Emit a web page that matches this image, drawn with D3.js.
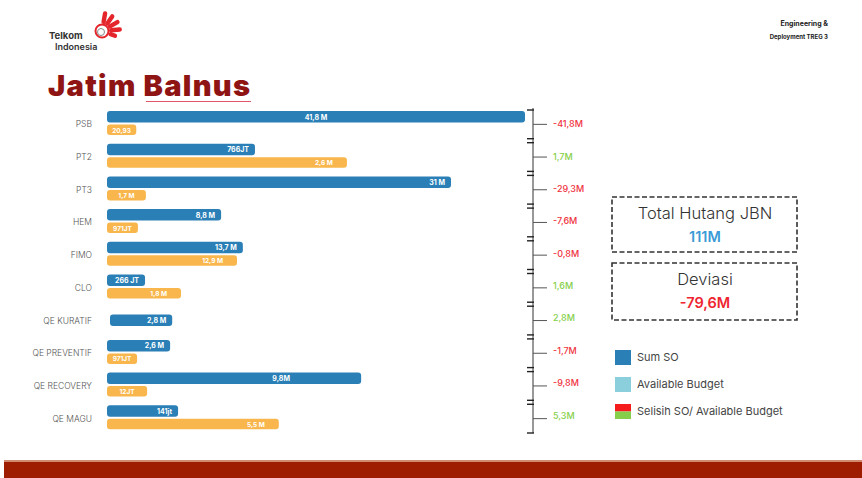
<!DOCTYPE html>
<html>
<head>
<meta charset="utf-8">
<script src="https://cdn.jsdelivr.net/npm/d3@7"></script>
<style>
  html, body { margin: 0; padding: 0; background: #fff; }
  svg { display: block; font-family: Inter, "Open Sans", sans-serif; }
</style>
</head>
<body>
<svg id="chart" width="862" height="478"></svg>
<script>
// categories (top to bottom)
var categories = ["PSB", "PT2", "PT3", "HEM", "FIMO", "CLO", "QE KURATIF", "QE PREVENTIF", "QE RECOVERY", "QE MAGU"];

// bar lengths as drawn in the picture (relative, longest bar = 100)
var soBar     = [100, 35.4, 82.3, 27.3, 32.5, 9.1, 15.6, 15.1, 60.8, 17.0];
var budgetBar = [7.0, 57.4, 9.3, 7.4, 31.1, 17.7, null, 7.2, 9.6, 41.1];

// labels printed on the bars
var soText     = ["41,8 M", "766JT", "31 M", "8,8 M", "13,7 M", "266 JT", "2,8 M", "2,6 M", "9,8M", "141jt"];
var budgetText = ["20,93", "2,6 M", "1,7 M", "971JT", "12,9 M", "1,8 M", "", "971JT", "12JT", "5,5 M"];

// selisih SO / available budget (M)
var selisih = [-41.8, 1.7, -29.3, -7.6, -0.8, 1.6, 2.8, -1.7, -9.8, 5.3];

var totalHutang = "111M";
var deviasi = "-79,6M";

var BLUE = "#2a7fb6", ORANGE = "#f8b64c", RED = "#ef3340", GREEN = "#86cf4a";

var svg = d3.select("#chart");

// ---- header ----
// logo hand (rough)
var logo = svg.append("g").attr("transform", "translate(102,31)");
[-80, -55, -30, -5, 20].forEach(function(a, i) {
    logo.append("rect")
        .attr("x", 7).attr("y", -2.2)
        .attr("width", i == 4 ? 9 : 13).attr("height", 4.4).attr("rx", 2.2)
        .attr("fill", "#e4252c")
        .attr("transform", "rotate(" + a + ")");
});
logo.append("circle").attr("r", 6.5).attr("fill", "#fff")
    .attr("stroke", "#e4252c").attr("stroke-width", 2);
logo.append("circle").attr("cx", -1).attr("cy", 1).attr("r", 3.5).attr("fill", "#fff")
    .attr("stroke", "#888").attr("stroke-width", 1);

svg.append("text").attr("x", 49).attr("y", 39)
    .attr("font-size", 9.5).attr("font-weight", 700).attr("fill", "#333").text("Telkom");
svg.append("text").attr("x", 55).attr("y", 50)
    .attr("font-size", 9).attr("font-weight", 600).attr("fill", "#333").text("Indonesia");

svg.append("text").attr("x", 828).attr("y", 26).attr("text-anchor", "end")
    .attr("font-size", 7).attr("font-weight", 700).attr("fill", "#222").text("Engineering &");
svg.append("text").attr("x", 828).attr("y", 39).attr("text-anchor", "end")
    .attr("font-size", 6).attr("font-weight", 700).attr("fill", "#222").text("Deployment TREG 3");

svg.append("text").attr("x", 48).attr("y", 96)
    .attr("font-size", 29).attr("font-weight", 900).attr("fill", "#8f1414")
    .attr("textLength", 202).attr("lengthAdjust", "spacing")
    .text("Jatim Balnus");
svg.append("line").attr("x1", 146).attr("x2", 251).attr("y1", 101.5).attr("y2", 101.5)
    .attr("stroke", "#e0566a").attr("stroke-width", 1);

// ---- scales ----
var x = d3.scaleLinear().domain([0, 100]).range([107, 525]);
var y = d3.scaleBand().domain(categories).range([108, 435]);
var bw = y.bandwidth();

// category labels
svg.append("g").selectAll("text")
    .data(categories).enter().append("text")
    .attr("x", 92)
    .attr("y", function(d) { return y(d) + bw / 2 + 3; })
    .attr("text-anchor", "end")
    .attr("font-size", 8.5).attr("font-weight", 300).attr("fill", "#555")
    .text(function(d) { return d; });

// Sum SO bars
var rows = categories.map(function(c, i) {
    return { cat: c, so: soBar[i], bud: budgetBar[i], soT: soText[i], budT: budgetText[i] };
});

var soY = function(d) { return d.bud == null ? y(d.cat) + bw / 2 - 6 : y(d.cat) + 3; };

svg.append("g").selectAll("rect")
    .data(rows).enter().append("rect")
    .attr("x", function(d) { return d.bud == null ? x(0) + 3 : x(0); })
    .attr("y", soY)
    .attr("width", function(d) { return x(d.so) - x(0) - (d.bud == null ? 3 : 0); })
    .attr("height", 11.5).attr("rx", 3)
    .attr("fill", BLUE);

svg.append("g").selectAll("text")
    .data(rows).enter().append("text")
    .attr("x", function(d) {
        if (d.so > 90) return (x(0) + x(d.so)) / 2;
        if (d.cat == "QE RECOVERY") return x(d.so) - 80;
        return x(d.so) - 6;
    })
    .attr("y", function(d) { return soY(d) + 8.5; })
    .attr("text-anchor", function(d) { return d.so > 90 || d.cat == "QE RECOVERY" ? "middle" : "end"; })
    .attr("font-size", 7).attr("font-weight", 700).attr("fill", "#fff")
    .text(function(d) { return d.soT; });

// Available budget bars
var bRows = rows.filter(function(d) { return d.bud != null; });
svg.append("g").selectAll("rect")
    .data(bRows).enter().append("rect")
    .attr("x", x(0))
    .attr("y", function(d) { return y(d.cat) + 16.5; })
    .attr("width", function(d) { return x(d.bud) - x(0); })
    .attr("height", 10.5).attr("rx", 3)
    .attr("fill", ORANGE);

svg.append("g").selectAll("text")
    .data(bRows).enter().append("text")
    .attr("x", function(d) {
        var len = x(d.bud) - x(0);
        return len < 50 ? (x(0) + x(d.bud)) / 2 : x(d.bud) - 14;
    })
    .attr("y", function(d) { return y(d.cat) + 24.5; })
    .attr("text-anchor", function(d) { return x(d.bud) - x(0) < 50 ? "middle" : "end"; })
    .attr("font-size", 6.5).attr("font-weight", 700).attr("fill", "#fff")
    .text(function(d) { return d.budT; });

// ---- right axis with selisih ----
var axX = 533;
var axis = d3.axisRight(y).tickSize(14).tickFormat("");
var gAx = svg.append("g").attr("transform", "translate(" + axX + ",0)").call(axis);
gAx.select(".domain").attr("stroke", "#333").attr("d", "M0," + y.range()[0] + "V" + (y.range()[1] - 2));
gAx.selectAll(".tick line").attr("stroke", "#555").attr("stroke-width", 1);

// small ticks at the band edges
var edges = [];
categories.forEach(function(c) { edges.push(y(c) + 2); edges.push(y(c) + bw - 2); });
gAx.append("g").selectAll("line")
    .data(edges).enter().append("line")
    .attr("x1", -6).attr("x2", 1)
    .attr("y1", function(d) { return d; }).attr("y2", function(d) { return d; })
    .attr("stroke", "#222").attr("stroke-width", 1.4);

var fmt = function(v) { return (v < 0 ? "-" : "") + Math.abs(v).toFixed(1).replace(".", ",") + "M"; };
svg.append("g").selectAll("text")
    .data(selisih).enter().append("text")
    .attr("x", 553)
    .attr("y", function(d, i) { return y(categories[i]) + bw / 2 + 3 - i * 0.35; })
    .attr("font-size", 9).attr("font-weight", 500)
    .attr("fill", function(d) { return d < 0 ? RED : GREEN; })
    .text(fmt);

// ---- summary boxes ----
function box(y0, h, title, val, col) {
    svg.append("rect").attr("x", 612).attr("y", y0).attr("width", 185).attr("height", h)
        .attr("fill", "none").attr("stroke", "#333").attr("stroke-width", 1.6)
        .attr("stroke-dasharray", "5,2.5");
    svg.append("text").attr("x", 705).attr("y", y0 + 22).attr("text-anchor", "middle")
        .attr("font-size", 16.5).attr("font-weight", 300).attr("fill", "#333").text(title);
    svg.append("text").attr("x", 705).attr("y", y0 + 45).attr("text-anchor", "middle")
        .attr("font-size", 14.5).attr("font-weight", 600).attr("fill", col).text(val);
}
box(197, 55, "Total Hutang JBN", totalHutang, "#3b9ad6");
box(263, 57, "Deviasi", deviasi, "#ee2530");

// ---- legend ----
var legendItems = ["Sum SO", "Available Budget", "Selisih SO/ Available Budget"];
var lg = svg.append("g").selectAll("g")
    .data(legendItems).enter().append("g")
    .attr("transform", function(d, i) { return "translate(615," + (350 + i * 27) + ")"; });
lg.each(function(d, i) {
    var g = d3.select(this);
    if (i == 0) g.append("rect").attr("width", 16).attr("height", 15).attr("fill", BLUE);
    if (i == 1) g.append("rect").attr("width", 16).attr("height", 15).attr("fill", "#8ccfdc");
    if (i == 2) {
        g.append("rect").attr("width", 16).attr("height", 7.5).attr("fill", "#f41c1c");
        g.append("rect").attr("y", 7.5).attr("width", 16).attr("height", 7.5).attr("fill", GREEN);
    }
    g.append("text").attr("x", 22).attr("y", 11).attr("font-size", 11)
        .attr("fill", "#444").text(d);
});

// ---- footer band ----
svg.append("rect").attr("x", 4).attr("y", 460).attr("width", 858).attr("height", 2)
    .attr("fill", "#cf8a70");
svg.append("rect").attr("x", 4).attr("y", 462).attr("width", 858).attr("height", 16)
    .attr("fill", "#9e1c00");
</script>
</body>
</html>
